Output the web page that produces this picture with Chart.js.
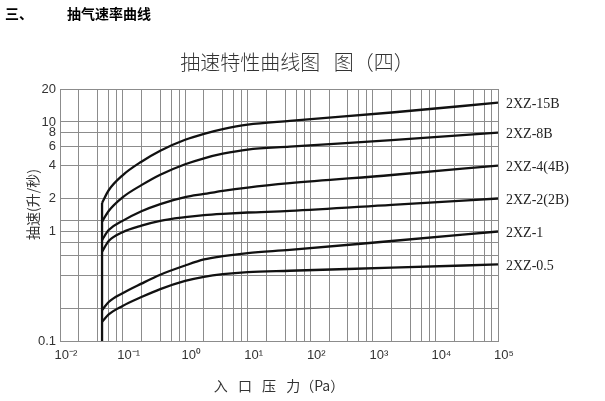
<!DOCTYPE html>
<html>
<head>
<meta charset="utf-8">
<script src="https://cdn.jsdelivr.net/npm/chart.js@4/dist/chart.umd.min.js"></script>
<style>
    body { margin: 0; background: #fff; }
    #quadro { position: relative; width: 605px; height: 401px; }
    .texto { position: absolute; font-family: "Noto Sans CJK SC", sans-serif; white-space: nowrap; }
    #secao { left: 5px; top: 3px; font-size: 14px; font-weight: bold; color: #000; }
    #secao2 { left: 67px; top: 3px; font-size: 14px; font-weight: bold; color: #000; }
    #titulo { left: 297px; top: 47px; transform: translateX(-50%); font-size: 20px; color: #333; font-weight: 300; }
</style>
</head>
<body>
<div id="quadro">
    <canvas id="graf" width="605" height="401"></canvas>
    <div class="texto" id="secao">三、</div>
    <div class="texto" id="secao2">抽气速率曲线</div>
    <div class="texto" id="titulo">抽速特性曲线图&nbsp;&nbsp;&nbsp;图（四）</div>
</div>
<script>
// pressão de entrada (Pa) - eixo x
var pressao = [0.047, 0.06, 0.1, 0.2, 0.4, 1, 2, 4, 10, 47, 2000, 100000];

// modelos das bombas (rótulos à direita)
var modelos = ['2XZ-15B', '2XZ-8B', '2XZ-4(4B)', '2XZ-2(2B)', '2XZ-1', '2XZ-0.5'];

// velocidade de bombeamento (L/s)
var xz15b = [1.82, 2.38, 3.26, 4.34, 5.47, 6.88, 7.80, 8.61, 9.47, 10.25, 12.2, 15];
var xz8b = [1.23, 1.54, 2.05, 2.65, 3.30, 4.11, 4.66, 5.13, 5.60, 5.95, 6.84, 8];
var xz4b = [0.836, 1.03, 1.25, 1.53, 1.78, 2.06, 2.2, 2.35, 2.52, 2.76, 3.28, 4];
var xz2b = [0.654, 0.819, 0.985, 1.13, 1.25, 1.35, 1.41, 1.45, 1.49, 1.54, 1.75, 2];
var xz1 = [0.192, 0.227, 0.273, 0.334, 0.403, 0.489, 0.555, 0.595, 0.635, 0.678, 0.819, 1];
var xz05 = [0.150, 0.175, 0.209, 0.252, 0.298, 0.354, 0.386, 0.408, 0.426, 0.438, 0.467, 0.5];

// linhas de grade e rótulos dos eixos
var gradeX = [];
[-2, -1, 0, 1, 2, 3, 4].forEach(function (e) {
    [1, 2, 4, 6, 8].forEach(function (m) { gradeX.push(m * Math.pow(10, e)); });
});
gradeX.push(100000);
var gradeY = [0.1, 0.2, 0.4, 0.6, 0.8, 1, 1.25, 2, 4, 6, 8, 10, 20];
var rotulosY = [0.1, 1, 2, 4, 6, 8, 10, 20];

var sobrescrito = { '-': '⁻', '0': '⁰', '1': '¹', '2': '²', '3': '³', '4': '⁴', '5': '⁵' };

function pontos(valores) {
    return pressao.map(function (p, i) { return { x: p, y: valores[i] }; });
}

// nomes dos modelos no fim de cada curva
var rotulosDireita = {
    id: 'rotulosDireita',
    afterDatasetsDraw: function (chart) {
        var ctx = chart.ctx;
        ctx.save();
        ctx.font = '14px "Liberation Serif"';
        ctx.fillStyle = '#222';
        ctx.textBaseline = 'middle';
        chart.data.datasets.forEach(function (ds, i) {
            if (!ds.label) return;
            var pts = chart.getDatasetMeta(i).data;
            var p = pts[pts.length - 1];
            ctx.fillText(ds.label, p.x + 8, p.y + 2);
        });
        ctx.restore();
    }
};

function createChart() {
    var series = [xz15b, xz8b, xz4b, xz2b, xz1, xz05];
    var datasets = series.map(function (s, i) {
        return {
            label: modelos[i],
            data: pontos(s),
            borderColor: '#111',
            borderWidth: 2.3,
            pointRadius: 0,
            cubicInterpolationMode: 'monotone',
            fill: false
        };
    });
    // traço vertical comum no início das curvas
    datasets.push({
        label: '',
        data: [{ x: pressao[0], y: 0.1 }, { x: pressao[0], y: xz15b[0] }],
        borderColor: '#111',
        borderWidth: 2.3,
        pointRadius: 0,
        tension: 0
    });

    var grade = { color: '#8c8c8c', lineWidth: 1, drawTicks: false };
    var borda = { display: true, color: '#8c8c8c', width: 1 };

    new Chart(document.getElementById('graf'), {
        type: 'line',
        data: { datasets: datasets },
        plugins: [rotulosDireita],
        options: {
            responsive: false,
            animation: false,
            layout: { padding: { left: 0, right: 107, top: 89, bottom: 0 } },
            plugins: {
                legend: { display: false },
                tooltip: { enabled: false },
                title: { display: false }
            },
            scales: {
                x: {
                    type: 'logarithmic',
                    min: 0.01,
                    max: 100000,
                    afterBuildTicks: function (scale) {
                        scale.ticks = gradeX.map(function (v) { return { value: v }; });
                    },
                    afterFit: function (scale) { scale.height = 60; },
                    grid: grade,
                    border: borda,
                    ticks: {
                        autoSkip: false,
                        maxRotation: 0,
                        padding: 7,
                        labelOffset: 6,
                        color: '#333',
                        font: { family: 'Liberation Sans', size: 13 },
                        callback: function (v) {
                            var e = Math.log10(v);
                            if (Math.abs(e - Math.round(e)) > 1e-9) return '';
                            return '10' + String(Math.round(e)).split('').map(function (c) { return sobrescrito[c]; }).join('');
                        }
                    },
                    title: {
                        display: true,
                        text: '入\u2002 口\u2002 压\u2002 力（Pa）',
                        color: '#333',
                        font: { family: 'Noto Sans CJK SC', size: 14 },
                        padding: { top: 0, bottom: 7 }
                    }
                },
                y: {
                    type: 'logarithmic',
                    min: 0.1,
                    max: 20,
                    afterBuildTicks: function (scale) {
                        scale.ticks = gradeY.map(function (v) { return { value: v }; });
                    },
                    afterFit: function (scale) { scale.width = 60; },
                    grid: grade,
                    border: borda,
                    ticks: {
                        autoSkip: false,
                        padding: 4,
                        color: '#333',
                        font: { family: 'Liberation Sans', size: 13 },
                        callback: function (v) {
                            return rotulosY.indexOf(v) >= 0 ? String(v) : '';
                        }
                    },
                    title: {
                        display: true,
                        text: '\u3000\u2002抽速(升/秒)',
                        color: '#333',
                        font: { family: 'Noto Sans CJK SC', size: 14 },
                        padding: { top: 24, bottom: 0 }
                    }
                }
            }
        }
    });
}

document.addEventListener('DOMContentLoaded', function () {
    createChart();
});
</script>
</body>
</html>
